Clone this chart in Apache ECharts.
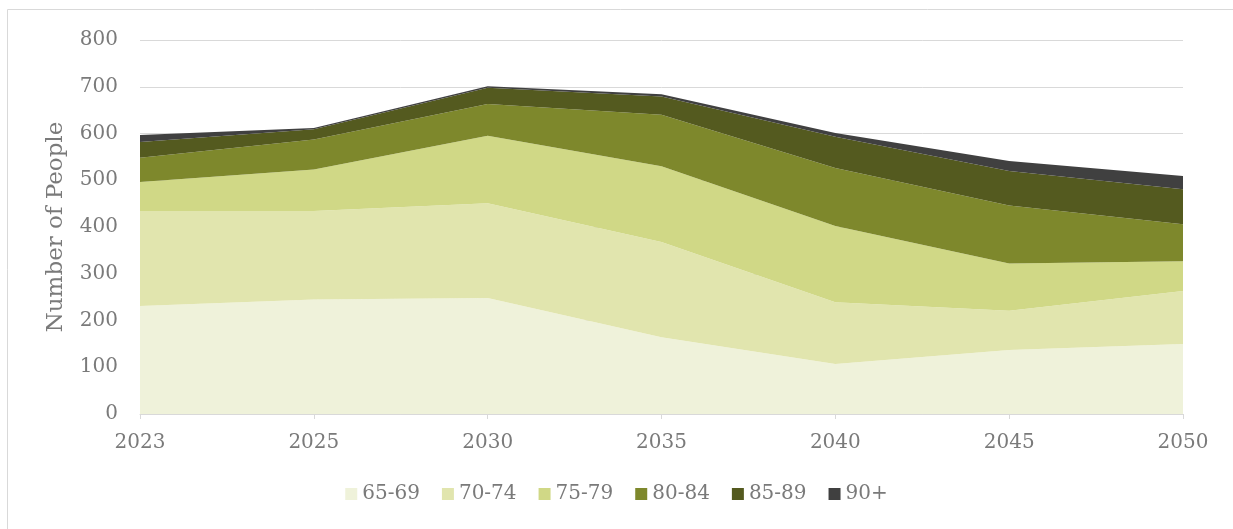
<!DOCTYPE html>
<html>
<head>
<meta charset="utf-8">
<script src="https://cdn.jsdelivr.net/npm/echarts@6/dist/echarts.min.js"></script>
<style>
html,body{margin:0;padding:0;background:#fff;}
#c{width:1233px;height:529px;}
</style>
</head>
<body>
<div id="c"></div>
<script>
const years = ['2023','2025','2030','2035','2040','2045','2050'];
const seriesNames = ['65-69','70-74','75-79','80-84','85-89','90+'];
const v65_69 = [231, 245, 248, 164, 107, 137, 150];
const v70_74 = [203, 189, 203, 204, 132, 84, 113];
const v75_79 = [62, 89, 144, 162, 163, 101, 64];
const v80_84 = [52, 64, 68, 110, 124, 124, 79];
const v85_89 = [34, 22, 35, 39, 67, 74, 75];
const v90p = [15, 3, 3, 5, 8, 21, 28];
const yTicks = { min: 0, max: 800, interval: 100 };

const values = [v65_69, v70_74, v75_79, v80_84, v85_89, v90p];
const colors = ['#eff2da', '#e1e5ae', '#d0d886', '#7e882c', '#545a1f', '#404040'];
const font = 'DejaVu Serif';
const txt = '#7a7a7a';

const chart = echarts.init(document.getElementById('c'));
chart.setOption({
  animation: false,
  color: colors,
  graphic: [{
    type: 'rect', shape: { x: 7.5, y: 9.5, width: 1240, height: 540 },
    style: { fill: 'none', stroke: '#d9d9d9', lineWidth: 1 }, silent: true
  }],
  grid: { left: 140, right: 50, top: 40, bottom: 115 },
  legend: {
    bottom: 20, left: 'center', itemWidth: 12, itemHeight: 12, itemGap: 22,
    icon: 'rect',
    textStyle: { fontFamily: font, fontSize: 20, color: txt },
    data: seriesNames
  },
  xAxis: {
    type: 'category', data: years, boundaryGap: false,
    axisLine: { lineStyle: { color: '#d9d9d9', width: 1 } },
    axisTick: { show: true, length: 5, lineStyle: { color: '#d9d9d9' } },
    axisLabel: { fontFamily: font, fontSize: 20, color: txt, margin: 19 },
    splitLine: { show: false }
  },
  yAxis: {
    type: 'value', min: yTicks.min, max: yTicks.max, interval: yTicks.interval,
    name: 'Number of People', nameLocation: 'middle', nameGap: 72, nameRotate: 90,
    nameTextStyle: { fontFamily: font, fontSize: 23, color: txt },
    axisLine: { show: false }, axisTick: { show: false },
    axisLabel: { fontFamily: font, fontSize: 20, color: txt, margin: 22 },
    splitLine: { lineStyle: { color: '#d9d9d9', width: 1 } }
  },
  series: seriesNames.map((n, i) => ({
    name: n, type: 'line', stack: 'total', data: values[i],
    symbol: 'none', lineStyle: { width: 0 },
    areaStyle: { color: colors[i], opacity: 1 },
    itemStyle: { color: colors[i] }
  }))
});
</script>
</body>
</html>
